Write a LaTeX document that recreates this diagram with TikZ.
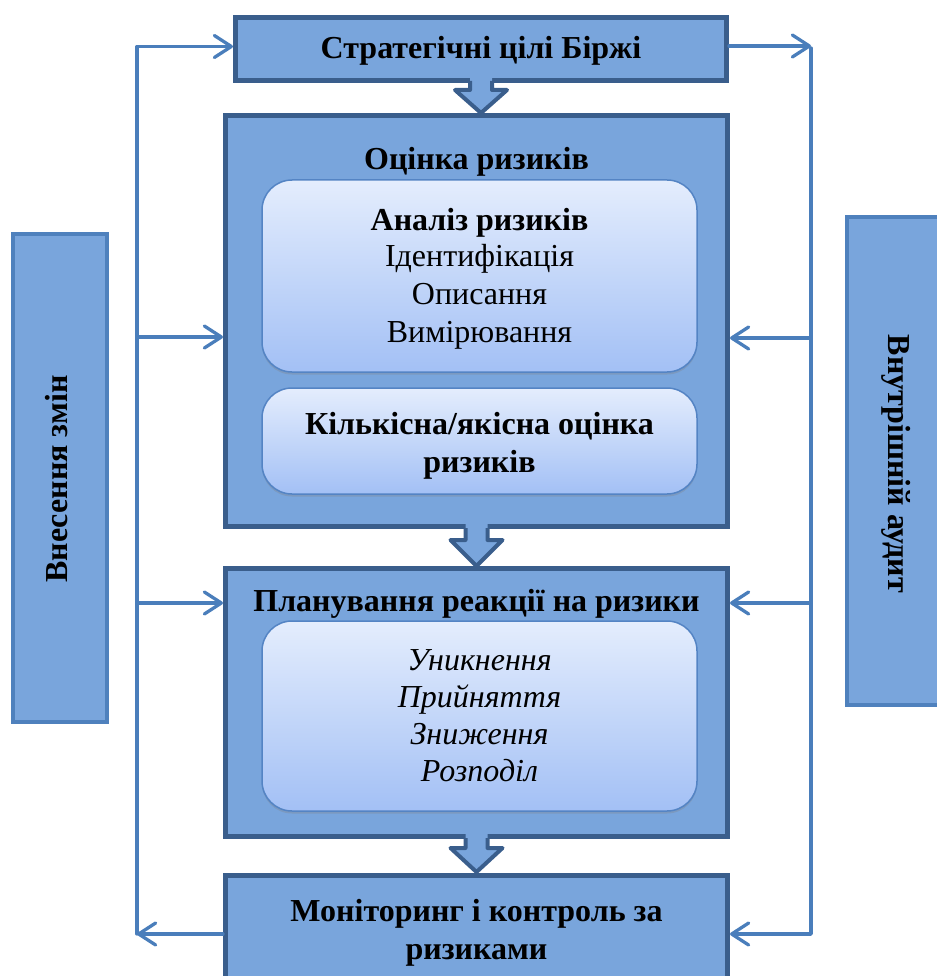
\documentclass[tikz,border=0pt]{standalone}
\usepackage{fontspec}
\setmainfont{Liberation Serif}
\usetikzlibrary{arrows.meta,shadows}
\definecolor{boxfill}{RGB}{121,165,220}
\definecolor{darkb}{RGB}{58,94,140}
\definecolor{sideb}{RGB}{79,129,189}
\definecolor{connc}{RGB}{74,126,187}
\definecolor{intop}{RGB}{228,237,253}
\definecolor{inbot}{RGB}{163,192,245}
\definecolor{inedge}{RGB}{84,132,196}
\newcommand\myblockarrow[5]{%
  \fill[boxfill] (#1-11,#2) -- (#1-11,#4) -- (#1-26,#4) -- (#1,#5) -- (#1+26,#4) -- (#1+11,#4) -- (#1+11,#2) -- cycle;
  \draw[darkb, line width=4pt, line join=round] (#1-11,#3) -- (#1-11,#4) -- (#1-26,#4) -- (#1,#5) -- (#1+26,#4) -- (#1+11,#4) -- (#1+11,#3);
}
\tikzset{
  mainbox/.style={draw=darkb, line width=5pt, fill=boxfill, inner sep=0pt},
  sidebox/.style={draw=sideb, line width=4pt, fill=boxfill, inner sep=0pt},
  innerbox/.style={draw=inedge, line width=1.5pt, rounded corners=30pt, top color=intop, bottom color=inbot, inner sep=0pt,
    drop shadow={shadow xshift=0pt, shadow yshift=-2.5pt, opacity=0.3}},
  txt/.style={font=\fontsize{32}{38}\selectfont, anchor=base, inner sep=0pt},
  btxt/.style={txt, font=\fontsize{32}{38}\selectfont\bfseries},
  itxt/.style={txt, font=\fontsize{32}{38}\selectfont\itshape},
  conn/.style={draw=connc, line width=3.3pt, line cap=round, line join=round},
  connarrow/.style={conn, -{Straight Barb[length=17pt,width=22pt,round]}},
}
\begin{document}
\begin{tikzpicture}[x=1pt,y=-1pt]
\useasboundingbox (0,0) rectangle (936,976);

% side boxes
\node[sidebox, minimum width=94pt, minimum height=488pt] (vnes) at (60,478) {};
\node[btxt, rotate=90] (vnesT) at (67,479) {Внесення змін};
\node[sidebox, minimum width=113pt, minimum height=488pt] (audit) at (903.5,461) {};
\node[btxt, rotate=-90] (auditT) at (888,464) {Внутрішній аудит};

% main boxes
\node[mainbox, minimum width=491pt, minimum height=63pt] (strat) at (481,49) {};
\node[btxt] (stratT) at (481,59) {Стратегічні цілі Біржі};

\node[mainbox, minimum width=502pt, minimum height=411pt] (ocinka) at (476.5,321) {};
\node[btxt] (ocinkaT) at (476.5,170) {Оцінка ризиків};
\node[innerbox, minimum width=435pt, minimum height=192pt] (analiz) at (479.5,276) {};
\node[btxt] (a1) at (479.5,230) {Аналіз ризиків};
\node[txt] (a2) at (479.5,266) {Ідентифікація};
\node[txt] (a3) at (479.5,304) {Описання};
\node[txt] (a4) at (479.5,342) {Вимірювання};
\node[innerbox, minimum width=435pt, minimum height=106pt] (kilk) at (479.5,441) {};
\node[btxt] (k1) at (479.5,434) {Кількісна/якісна оцінка};
\node[btxt] (k2) at (479.5,472) {ризиків};

\node[mainbox, minimum width=502pt, minimum height=268pt] (plan) at (476.5,702) {};
\node[btxt] (planT) at (476.5,611) {Планування реакції на ризики};
\node[innerbox, minimum width=435pt, minimum height=190pt] (reak) at (479.5,716) {};
\node[itxt] (r1) at (479.5,670) {Уникнення};
\node[itxt] (r2) at (479.5,707) {Прийняття};
\node[itxt] (r3) at (479.5,744) {Зниження};
\node[itxt] (r4) at (479.5,781) {Розподіл};

\node[mainbox, minimum width=502pt, minimum height=120pt] (mon) at (476.5,935.5) {};
\node[btxt] (m1) at (476.5,921) {Моніторинг і контроль за};
\node[btxt] (m2) at (476.5,959) {ризиками};

% block arrows
\myblockarrow{481}{77}{81}{90}{113}
\myblockarrow{476.5}{523}{528}{540}{566}
\myblockarrow{476.5}{833}{838}{848}{872}

% connectors
\coordinate (LT) at (137,46.5);
\coordinate (LB) at (137,934);
\coordinate (L1) at (137,337);
\coordinate (L2) at (137,603);
\coordinate (RT) at (811,46);
\coordinate (RV) at (811,48);
\coordinate (RB) at (811,934);
\coordinate (R1) at (811,338);
\coordinate (R2) at (811,603);

\draw[connarrow] (LB) -- (LT) -- (strat.west |- LT);
\draw[connarrow] (L1) -- (ocinka.west |- L1);
\draw[connarrow] (L2) -- (plan.west |- L2);
\draw[connarrow] (mon.west |- LB) -- (LB);

\draw[connarrow] (strat.east |- RT) -- (RT);
\draw[connarrow] (RV) -- (RB) -- (mon.east |- RB);
\draw[connarrow] (R1) -- (ocinka.east |- R1);
\draw[connarrow] (R2) -- (plan.east |- R2);
\end{tikzpicture}
\end{document}
